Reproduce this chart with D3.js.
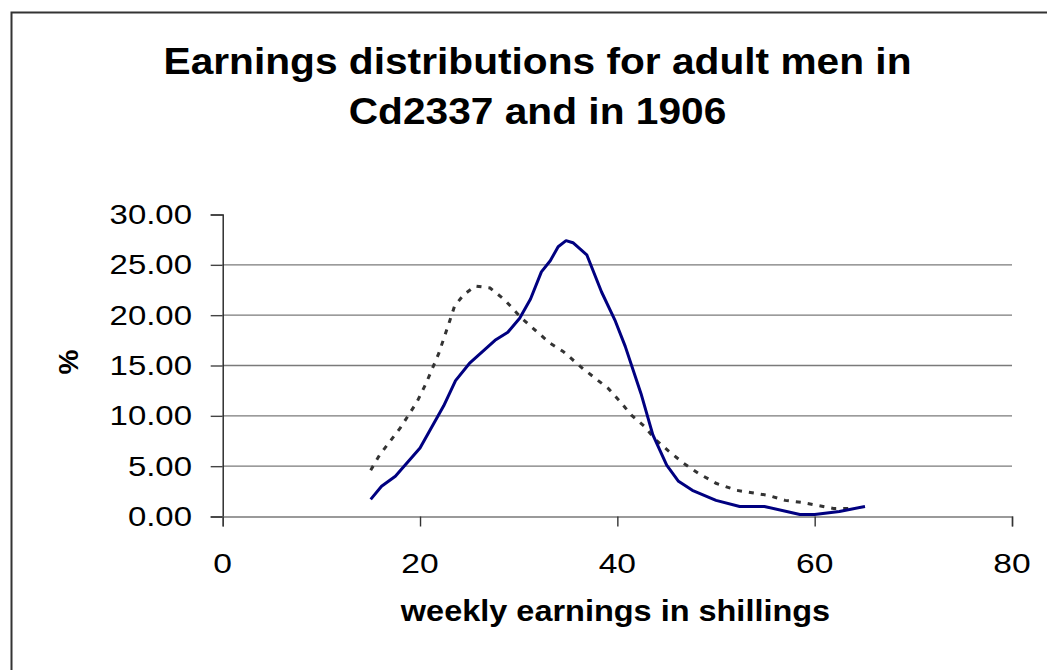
<!DOCTYPE html>
<html>
<head>
<meta charset="utf-8">
<script src="https://cdn.jsdelivr.net/npm/d3@7"></script>
<style>
  html, body { margin: 0; padding: 0; background: #fff; }
  svg { display: block; }
  text { font-family: "Liberation Sans", Arial, Helvetica, sans-serif; fill: #000; }
</style>
</head>
<body>
<svg id="chart" width="1047" height="670"></svg>
<script>
// ---- data ----
const titleLines = ["Earnings distributions for adult men in", "Cd2337 and in 1906"];
const xAxisTitle = "weekly earnings in shillings";
const yAxisTitle = "%";
const xTicks = [0, 20, 40, 60, 80];
const yTicks = [0, 5, 10, 15, 20, 25, 30];

// solid navy series
const solidX = [15, 16.1, 17.5, 20, 22.4, 23.6, 25, 27.6, 28.9, 30.1, 31.2, 32.3, 33.2, 34.0, 34.8, 35.5, 36.9, 38.4, 39.8, 40.8, 42.4, 43.6, 45.0, 46.2, 47.6, 50.0, 52.4, 54.9, 58.5, 60.0, 62.5, 65.1];
const solidY = [1.7, 3.0, 4.0, 6.8, 11.0, 13.5, 15.2, 17.5, 18.3, 19.7, 21.6, 24.3, 25.4, 26.8, 27.4, 27.2, 26.0, 22.3, 19.4, 16.9, 12.2, 8.1, 5.1, 3.5, 2.6, 1.6, 1.0, 1.0, 0.2, 0.2, 0.5, 1.0];

// dashed grey series
const dashedX = [15, 15.9, 18, 19.7, 20.6, 21.9, 23.0, 23.5, 24.4, 25.6, 27.1, 28.6, 30.3, 31.8, 33.2, 34.5, 36.5, 39.1, 40.3, 41.4, 42.8, 43.8, 45.2, 46.7, 48.2, 50.0, 52.1, 55.3, 57.0, 58.7, 61.9, 63.7];
const dashedY = [4.6, 6.1, 8.8, 11.4, 13.2, 16.2, 19.4, 20.9, 22.0, 22.9, 22.7, 21.5, 19.7, 18.4, 17.2, 16.4, 14.7, 12.7, 11.4, 10.1, 8.9, 7.7, 6.5, 5.3, 4.3, 3.3, 2.6, 2.1, 1.6, 1.4, 0.8, 0.8];

// ---- drawing ----
const svg = d3.select("#chart");
const x = d3.scaleLinear().domain([0, 80]).range([222.7, 1012]);
const y = d3.scaleLinear().domain([0, 30]).range([516.5, 214.5]);

function stretched(g, txt, tx, ty, size, sx, weight, anchor) {
  return g.append("text")
    .attr("transform", `translate(${tx},${ty}) scale(${sx},1)`)
    .attr("font-size", size)
    .attr("font-weight", weight || "normal")
    .attr("text-anchor", anchor || "middle")
    .text(txt);
}

// outer frame (top & left edges visible)
svg.append("path")
  .attr("d", "M11.5,680 L11.5,12.5 L1060,12.5")
  .attr("fill", "none").attr("stroke", "#333").attr("stroke-width", 2);

// title
stretched(svg, titleLines[0], 537.5, 73.5, 36, 1.13, "bold");
stretched(svg, titleLines[1], 537.5, 124, 36, 1.13, "bold");

// gridlines
svg.append("g").selectAll("line")
  .data(yTicks.filter(d => d > 0 && d < 30))
  .join("line")
  .attr("x1", x(0)).attr("x2", x(80))
  .attr("y1", d => y(d)).attr("y2", d => y(d))
  .attr("stroke", "#7a7a7a").attr("stroke-width", 1.4);

// y axis
const yAxis = d3.axisLeft(y).tickValues(yTicks).tickSize(12).tickFormat(d3.format(".2f"));
const gy = svg.append("g").attr("transform", `translate(${x(0)},0)`).call(yAxis);
gy.select(".domain").attr("stroke", "#222").attr("stroke-width", 1.4);
gy.selectAll(".tick line").attr("stroke", "#444").attr("stroke-width", 1.4);
gy.selectAll(".tick text").remove();
gy.selectAll(".tick").each(function(d) {
  stretched(d3.select(this), d3.format(".2f")(d), -30.7, 9, 27, 1.22, "normal", "end");
});

// x axis
const xAxis = d3.axisBottom(x).tickValues(xTicks).tickSize(10);
const gx = svg.append("g").attr("transform", `translate(0,${y(0)})`).call(xAxis);
gx.select(".domain").attr("stroke", "#7a7a7a").attr("stroke-width", 1.6);
gx.selectAll(".tick line").attr("stroke", "#333").attr("stroke-width", 1.4);
gx.selectAll(".tick text").remove();
gx.selectAll(".tick").each(function(d) {
  stretched(d3.select(this), String(d), -0.5, 56.5, 28, 1.2, "normal", "middle");
});

// axis titles
stretched(svg, xAxisTitle, 615.5, 621, 29, 1.12, "bold");
svg.append("text")
  .attr("transform", "translate(78,362) rotate(-90)")
  .attr("font-size", 28).attr("font-weight", "bold")
  .attr("text-anchor", "middle")
  .text(yAxisTitle);

// lines
const line = d3.line().x(d => x(d[0])).y(d => y(d[1])).curve(d3.curveLinear);
svg.append("path")
  .datum(dashedX.map((v, i) => [v, dashedY[i]]))
  .attr("d", line)
  .attr("fill", "none").attr("stroke", "#333").attr("stroke-width", 3)
  .attr("stroke-dasharray", "5,7");
svg.append("path")
  .datum(solidX.map((v, i) => [v, solidY[i]]))
  .attr("d", line)
  .attr("fill", "none").attr("stroke", "#000080").attr("stroke-width", 3)
  .attr("stroke-linejoin", "round");
</script>
</body>
</html>
